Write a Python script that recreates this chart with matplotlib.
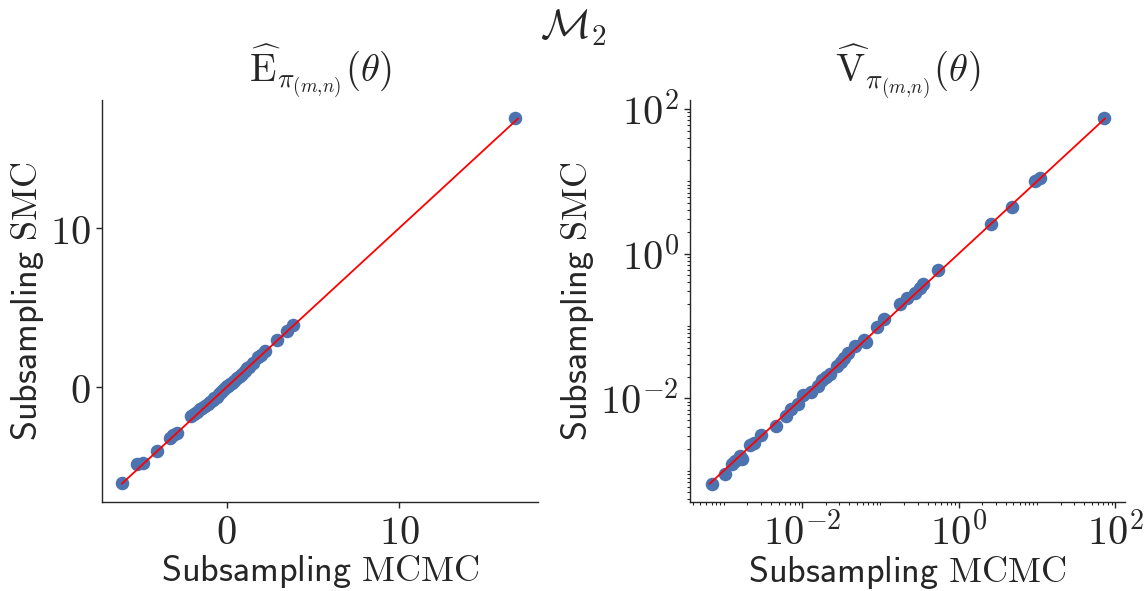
import numpy as np
import matplotlib
matplotlib.use("Agg")
import matplotlib.pyplot as plt
import seaborn as sns
from matplotlib.ticker import FuncFormatter, LogLocator, FixedLocator, NullFormatter

sns.set_style("ticks")
plt.rcParams['mathtext.fontset'] = 'cm'

# posterior means: subsampling MCMC vs subsampling SMC
mean_mcmc = [-6.07, -5.2, -4.85, -4.05, -3.3, -3.1, -2.87, -2.05, -1.9, -1.7,
             -1.55, -1.4, -1.25, -1.1, -0.95, -0.8, -0.7, -0.55, -0.45, -0.3,
             -0.2, -0.1, 0.0, 0.1, 0.2, 0.3, 0.45, 0.6, 0.75, 0.9,
             1.05, 1.2, 1.3, 1.55, 1.85, 2.0, 2.23, 2.9, 3.5, 3.87, 16.7]
mean_smc = [-6.0, -4.8, -4.78, -4.0, -3.2, -3.0, -2.86, -1.8, -1.7, -1.55,
            -1.4, -1.3, -1.2, -1.05, -0.95, -0.8, -0.7, -0.6, -0.4, -0.3,
            -0.2, -0.05, 0.05, 0.1, 0.2, 0.25, 0.4, 0.6, 0.7, 0.85,
            1.0, 1.2, 1.25, 1.5, 1.9, 2.05, 2.3, 2.94, 3.56, 3.9, 16.9]

# posterior variances
var_mcmc = [7.1e-4, 1.05e-3, 1.26e-3, 1.41e-3, 1.62e-3, 1.70e-3, 2.14e-3, 2.40e-3,
            3.02e-3, 4.68e-3, 6.31e-3, 7.24e-3, 8.91e-3, 1.02e-2, 1.29e-2, 1.58e-2,
            1.82e-2, 2.0e-2, 2.24e-2, 2.82e-2, 3.16e-2, 3.47e-2, 3.80e-2, 4.79e-2,
            6.17e-2, 6.46e-2, 9.12e-2, 0.110, 0.178, 0.219, 0.275, 0.316, 0.355,
            0.550, 2.57, 4.79, 9.55, 11.0, 70.8]
var_smc = [6.6e-4, 9.1e-4, 1.23e-3, 1.38e-3, 1.62e-3, 1.45e-3, 2.24e-3, 2.45e-3,
           3.09e-3, 4.17e-3, 5.75e-3, 7.08e-3, 8.32e-3, 1.10e-2, 1.23e-2, 1.48e-2,
           1.82e-2, 1.95e-2, 2.14e-2, 2.82e-2, 3.2e-2, 3.63e-2, 4.27e-2, 5.25e-2,
           6.46e-2, 6.03e-2, 9.77e-2, 0.123, 0.204, 0.240, 0.282, 0.331, 0.380,
           0.589, 2.57, 4.37, 10.2, 11.2, 74.1]

blue = "#4C72B0"
fs_lab = 26
fs_tick = 29

fig = plt.figure(figsize=(11.46, 5.91), dpi=100)
ax1 = fig.add_axes([0.089, 0.1506, 0.3805, 0.680])
ax2 = fig.add_axes([0.602, 0.1506, 0.3796, 0.680])

for ax, x, y in [(ax1, mean_mcmc, mean_smc), (ax2, var_mcmc, var_smc)]:
    ax.scatter(x, y, s=95, color=blue, linewidths=0, zorder=2)
    lo = min(min(x), min(y))
    hi = max(max(x), max(y))
    ax.plot([lo, hi], [lo, hi], color='red', lw=1.3, zorder=3)
    ax.set_xlabel(r'$\mathsf{Subsampling}\ \mathrm{MCMC}$', fontsize=fs_lab, labelpad=0)
    ax.set_ylabel(r'$\mathsf{Subsampling}\ \mathrm{SMC}$', fontsize=fs_lab, labelpad=3)
    ax.tick_params(which='major', length=4, width=1, labelsize=fs_tick, pad=4, color='.15')
    for s in ['left', 'bottom']:
        ax.spines[s].set_color('.15')
        ax.spines[s].set_linewidth(1)
    sns.despine(ax=ax)

ax1.set_xticks([0, 10])
ax1.set_yticks([0, 10])
intfmt = FuncFormatter(lambda v, p: r'$%d$' % v)
ax1.xaxis.set_major_formatter(intfmt)
ax1.yaxis.set_major_formatter(intfmt)

ax2.set_xscale('log')
ax2.set_yscale('log')
logfmt = FuncFormatter(lambda v, p: r'$10^{%d}$' % round(np.log10(v)))
for axis in [ax2.xaxis, ax2.yaxis]:
    axis.set_major_locator(FixedLocator([1e-2, 1e0, 1e2]))
    axis.set_major_formatter(logfmt)
    axis.set_minor_locator(LogLocator(base=10, subs=np.arange(1, 10), numticks=50))
    axis.set_minor_formatter(NullFormatter())
ax2.tick_params(which='minor', length=2, width=0.8, color='.15')

ax1.set_title(r'$\widehat{\mathrm{E}}_{\pi_{(m{,}n)}}(\theta)$', fontsize=28, pad=2)
ax2.set_title(r'$\widehat{\mathrm{V}}_{\pi_{(m{,}n)}}(\theta)$', fontsize=28, pad=2)
fig.suptitle(r'$\mathcal{M}_2$', fontsize=30, y=0.99)

fig.savefig('out.png', dpi=100)
